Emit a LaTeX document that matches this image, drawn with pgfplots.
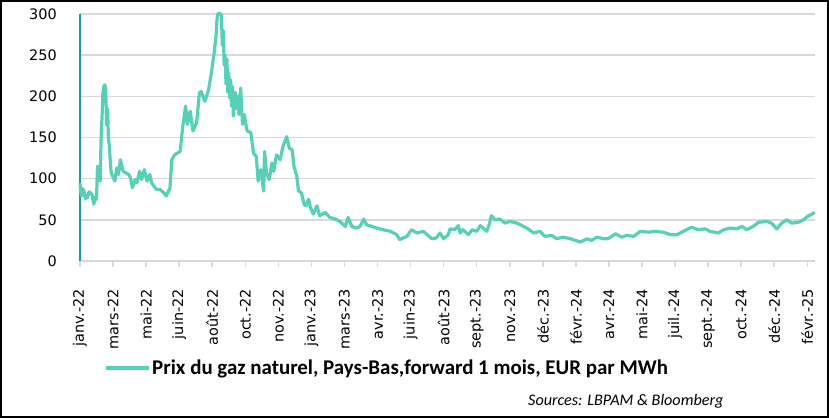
\documentclass[border=0pt]{standalone}
\usepackage{pgfplots}
\pgfplotsset{compat=1.18}
\usepackage{fontspec}
\setmainfont{Carlito}
\newfontfamily\dejavu{DejaVu Sans}
\definecolor{gasline}{RGB}{86,209,183}
\definecolor{gridgray}{RGB}{217,217,217}
\definecolor{yaxisteal}{RGB}{23,154,163}
\begin{document}
\begin{tikzpicture}
\useasboundingbox (0,0) rectangle (829bp,418bp);
\begin{axis}[
  at={(80bp,157bp)}, anchor=south west,
  scale only axis, width=735bp, height=247bp,
  xmin=0, xmax=800.4, ymin=0, ymax=300,
  clip=false,
  axis x line*=bottom, axis y line*=left,
  x axis line style={draw=gridgray, line width=1.5bp},
  y axis line style={draw=yaxisteal, line width=2bp},
  ytick={0,50,...,300},
  xtick={0,36,...,792},
  xticklabels={janv.-22, mars-22, mai-22, juin-22, août-22, oct.-22, nov.-22, janv.-23, mars-23, avr.-23, juin-23, août-23, sept.-23, nov.-23, déc.-23, févr.-24, avr.-24, mai-24, juil.-24, sept.-24, oct.-24, déc.-24, févr.-25},
  ymajorgrids,
  grid style={draw=gridgray, line width=1.5bp},
  tick align=outside,
  major tick length=6bp,
  xtick style={draw=gridgray, line width=1.5bp},
  ytick style={draw=none},
  /pgf/number format/assume math mode=true,
  tick label style={font=\dejavu\fontsize{14.5}{16}\selectfont},
  yticklabel style={anchor=east, inner sep=0pt, xshift=-17bp},
  xticklabel style={rotate=90, anchor=east, inner sep=0pt},
  xticklabel shift=22bp,
  legend style={at={(0.0327,-0.433)}, anchor=west, draw=none, fill=none,
    inner sep=0pt, font=\bfseries\fontsize{21}{22}\selectfont,
    nodes={inner sep=1.5bp}},
  legend cell align=left,
  legend image code/.code={\draw[#1, line width=3.5bp] (0bp,0bp) -- (43bp,0bp);},
]
\addplot[gasline, line width=3.2bp, line join=round] coordinates {
(0,95) (1,82) (2,79) (3,88) (5,83) (6,76) (8,77) (10,84) (13,81) (15,69) (17,78) (18,75) (19,115) (21,112) (22,97)
(23,150) (24,175) (25,205) (26,212) (27,214) (28,208) (29,165) (30,185) (31,148) (32,140) (33,120) (34,107)
(36,102) (38,97) (40,113) (42,105) (44,123) (47,109)
(53,105) (55,101) (57,89) (60,99) (62,95) (65,109) (67,99) (70,111) (73,97) (76,105)
(78,95) (83,87) (87,87) (91,83) (94,79) (98,89) (100,123) (103,129) (109,133) (112,164)
(115,188) (117,166) (120,182) (123,158) (127,168) (130,204) (132,206) (136,194) (140,208) (143,228)
(146,252) (148,272) (149,290) (150,300) (152,301) (154,298) (155,262) (156,280) (157,238) (158,250)
(159,215) (160,245) (161,205) (162,228) (163,198) (164,220) (165,188) (166,212) (167,176) (169,205)
(170,185) (172,200) (173,178) (175,210) (176,185) (177,166) (179,178) (180,170) (182,158) (186,156) (189,131) (192,127)
(194,97) (197,111) (200,85) (201,133) (203,107) (206,99) (209,119) (211,109) (214,129) (218,123)
(221,139) (225,151) (228,137) (231,135) (233,115) (236,103) (238,85) (241,83) (244,69) (246,67)
(249,75) (251,65) (254,57) (258,67) (261,55) (267,59) (272,53) (278,51) (283,48) (289,42)
(292,53) (296,42) (301,40) (305,42) (309,51) (312,44) (318,42) (323,40) (330,38) (338,36)
(345,32) (348,26) (356,30) (361,38) (367,34) (374,36) (383,27) (388,28) (392,34) (396,27)
(401,32) (403,39) (408,38) (412,43) (414,34) (417,38) (423,32) (427,38) (432,36) (436,43)
(443,36) (446,46) (448,55) (452,50) (457,51) (463,46) (468,48) (476,46) (483,42) (488,39)
(494,34) (501,36) (506,30) (514,31) (519,27) (526,29) (534,27) (545,23) (552,27) (557,25)
(563,29) (570,27) (575,27) (583,33) (590,29) (595,31) (603,30) (610,36) (619,35) (626,36)
(635,35) (643,32) (650,32) (657,36) (666,41) (673,38) (681,39) (686,36) (695,34) (701,38)
(708,40) (715,39) (721,42) (726,38) (733,42) (739,47) (748,48) (753,46) (759,39) (764,46)
(770,50) (775,46) (782,47) (788,50) (792,54) (797,57) (800,59)
};
\addlegendentry{Prix du gaz naturel, Pays-Bas,forward 1 mois, EUR par MWh}
\end{axis}
\node[anchor=base west, inner sep=0pt, font=\itshape\fontsize{16.2}{18}\selectfont] at (528bp,13bp) {Sources: LBPAM \& Bloomberg};
\draw[line width=2bp] (1bp,1bp) rectangle (828bp,417bp);
\end{tikzpicture}
\end{document}
